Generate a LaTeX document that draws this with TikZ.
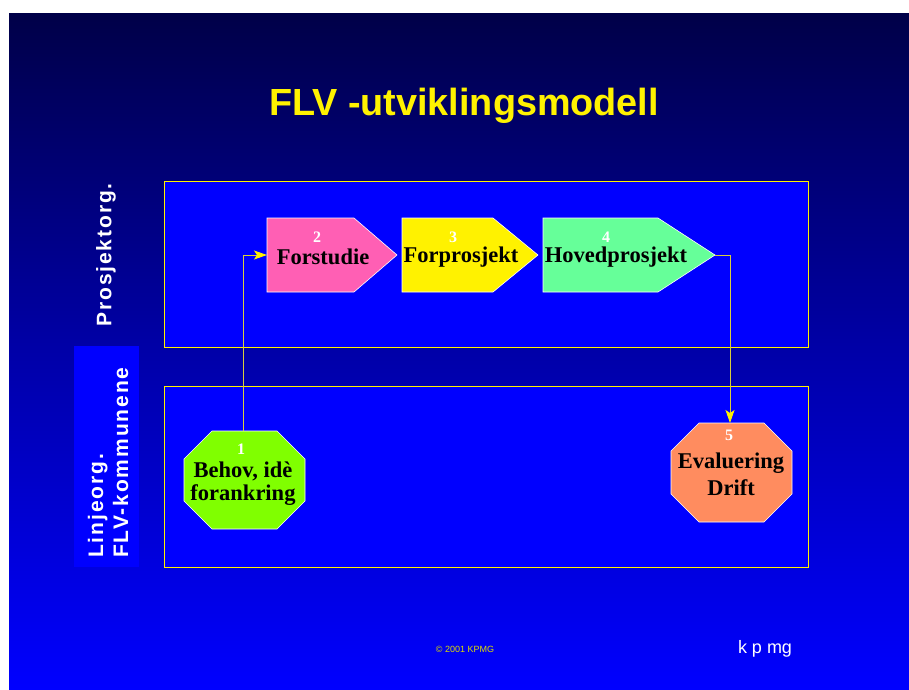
\documentclass[tikz,border=0pt]{standalone}
\usepackage{fontspec}
\setmainfont{Liberation Serif}
\setsansfont{Liberation Sans}
\usetikzlibrary{arrows.meta}
\definecolor{slidetop}{RGB}{0,0,72}
\definecolor{slidemid}{RGB}{0,0,168}
\definecolor{slidebot}{RGB}{0,0,255}
\definecolor{boxblue}{RGB}{0,0,255}
\definecolor{pinkf}{RGB}{255,95,180}
\definecolor{greenh}{RGB}{102,255,153}
\definecolor{limeg}{RGB}{128,255,0}
\definecolor{salmonf}{RGB}{255,140,95}
\definecolor{lineyel}{RGB}{215,205,60}
\definecolor{copyyel}{RGB}{220,220,0}
\tikzset{
  lanebox/.style={draw=yellow,line width=0.9pt,fill=boxblue},
  stepshape/.style={draw=white,line width=0.6pt},
  steptext/.style={font=\bfseries\fontsize{22.5}{24}\selectfont,text=black,inner sep=0pt},
  stepnum/.style={font=\bfseries\fontsize{16}{18}\selectfont,text=white,inner sep=0pt},
  sidelabel/.style={font=\sffamily\bfseries\fontsize{21}{25}\selectfont\addfontfeatures{LetterSpace=9},text=white,rotate=90,inner sep=0pt},
  flowline/.style={draw=lineyel,line width=0.9pt,-{Stealth[length=13pt,width=9pt,inset=3pt,color=yellow]}}
}
\begin{document}
\begin{tikzpicture}[x=1pt,y=-1pt]
\useasboundingbox (0,0) rectangle (909,689);
\fill[white] (0,0) rectangle (909,689);
\shade[top color=slidetop,bottom color=slidebot,middle color=slidemid] (9,13) rectangle (909,689);

% title
\node[font=\sffamily\bfseries\fontsize{37.8}{40}\selectfont,text=yellow,inner sep=0pt] (title) at (464,106) {FLV -utviklingsmodell};

% lanes
\path[lanebox] (164,181) rectangle (808,347);
\path[lanebox] (164,386) rectangle (808,567);
\fill[boxblue] (74,346) rectangle (139,567);

\node[sidelabel] (lblP) at (106,255) {Prosjektorg.};
\node[sidelabel,align=left,anchor=west] (lblL) at (108,558) {Linjeorg.\\FLV-kommunene};

% pentagons
\path[stepshape,fill=pinkf] (267,218) -- (354,218) -- (397,255) -- (354,292) -- (267,292) -- cycle;
\path[stepshape,fill=yellow] (402,218) -- (493,218) -- (538,255) -- (493,292) -- (402,292) -- cycle;
\path[stepshape,fill=greenh] (543,218) -- (658,218) -- (715,255) -- (658,292) -- (543,292) -- cycle;

\node[stepnum] (n2) at (317,237) {2};
\node[steptext] (t2) at (323,257) {Forstudie};
\node[stepnum] (n3) at (453,237) {3};
\node[steptext] (t3) at (461,257) {Forprosjekt};
\node[stepnum] (n4) at (606,237) {4};
\node[steptext] (t4) at (616,257) {Hovedprosjekt};

% octagons
\path[stepshape,fill=limeg] (212,431) -- (277,431) -- (305,459) -- (305,501) -- (277,529) -- (212,529) -- (184,501) -- (184,459) -- cycle;
\node[stepnum] (n1) at (241,449) {1};
\node[steptext,align=center,font=\bfseries\fontsize{22.5}{23}\selectfont] (t1) at (243,484) {Behov, idè\\forankring};

\path[stepshape,fill=salmonf] (699,423) -- (764,423) -- (792,451) -- (792,494) -- (764,522) -- (699,522) -- (671,494) -- (671,451) -- cycle;
\node[stepnum] (n5) at (729,435) {5};
\node[steptext,align=center,font=\bfseries\fontsize{22.5}{27}\selectfont] (t5) at (731,474) {Evaluering\\Drift};

% connectors
\coordinate (o1top) at (243,431);
\coordinate (p2w) at (267,255);
\coordinate (p4tip) at (715,255);
\coordinate (o5top) at (730,423);
\draw[flowline] (o1top) |- (p2w);
\draw[flowline] (p4tip) -| (o5top);

% footer
\node[font=\sffamily\fontsize{9}{10}\selectfont,text=copyyel,inner sep=0pt] (copy) at (465,649) {© 2001 KPMG};
\node[font=\sffamily\fontsize{18}{20}\selectfont,text=white,inner sep=0pt] (kpmg) at (765,649) {k p mg};
\end{tikzpicture}
\end{document}
